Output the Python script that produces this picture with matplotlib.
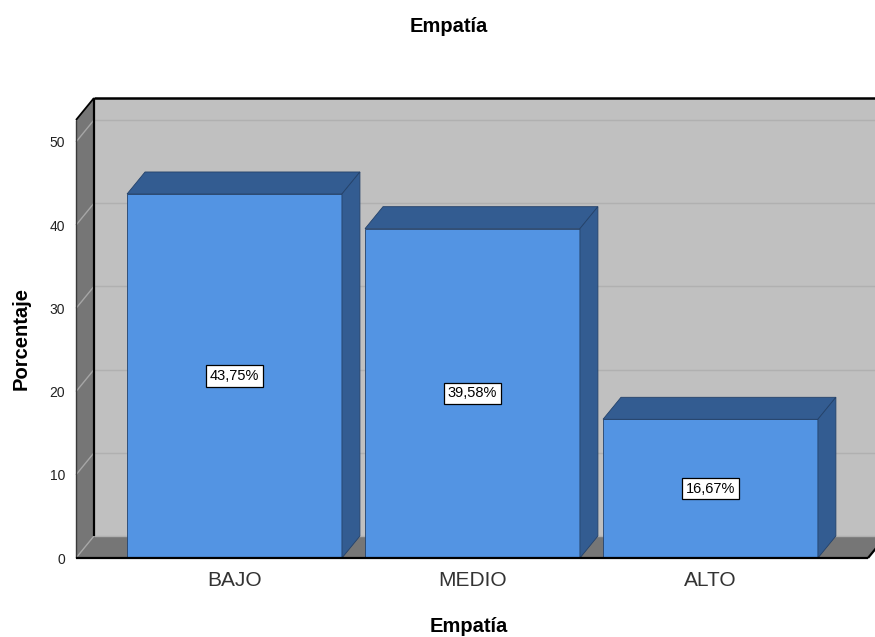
import matplotlib
matplotlib.use("Agg")
import matplotlib.pyplot as plt
from matplotlib.patches import Polygon

plt.rcParams["font.family"] = ["Liberation Sans", "DejaVu Sans"]

categories = ["BAJO", "MEDIO", "ALTO"]
percentages = [43.75, 39.58, 16.67]
yticks = [0, 10, 20, 30, 40, 50]

WALL = "#c0c0c0"
SHADE = "#767676"
GRID_BACK = "#b0b0b0"
GRID_SIDE = "#a6a6a6"
BAR_FRONT = "#5394e3"
BAR_DARK = "#335c91"
BAR_EDGE = "#24426a"

# front plane limits and the 3D depth offset (data units)
x0, x1 = -0.666, 2.662
ytop = 52.64
dx, dy = 0.0756, 2.644
width = 0.903

fig = plt.figure(figsize=(8.75, 6.37), dpi=100)
ax = fig.add_axes([76 / 875, 79 / 637, 792 / 875, 438 / 637])
ax.set_xlim(x0, x1)
ax.set_ylim(0, ytop)
ax.patch.set_visible(False)
for s in ax.spines.values():
    s.set_visible(False)


def poly(pts, fc, ec="none", lw=0, z=1):
    ax.add_patch(Polygon(pts, closed=True, facecolor=fc, edgecolor=ec,
                         linewidth=lw, zorder=z, clip_on=False))


def line(xs, ys, color="black", lw=1.5, z=3):
    ax.plot(xs, ys, color=color, lw=lw, zorder=z, clip_on=False,
            solid_capstyle="butt")


# back wall, left wall and floor
poly([(x0 + dx, dy), (x1 + dx, dy), (x1 + dx, ytop + dy), (x0 + dx, ytop + dy)], WALL, z=0)
poly([(x0, 0), (x0, ytop), (x0 + dx, ytop + dy), (x0 + dx, dy)], SHADE, z=0)
poly([(x0, 0), (x1, 0), (x1 + dx, dy), (x0 + dx, dy)], SHADE, z=0)

for t in yticks:
    line([x0, x0 + dx], [t, t + dy], color=GRID_SIDE, lw=1, z=0.5)
    line([x0 + dx, x1 + dx], [t + dy, t + dy], color=GRID_BACK, lw=1, z=0.5)

line([x0, x0], [0, ytop], color="#3a3a3a", lw=1, z=0.6)
line([x0 + dx, x0 + dx], [dy, ytop + dy], lw=1.6)
line([x0 + dx, x1 + dx], [ytop + dy, ytop + dy], lw=1.8)
line([x0, x0 + dx], [ytop, ytop + dy], lw=1.3)
line([x0, x1], [0, 0], lw=1.6, z=4)
line([x1, x1 + dx], [0, dy], lw=1.6, z=4)

# bars
for i, v in enumerate(percentages):
    left, right = i - width / 2, i + width / 2
    poly([(left, 0), (right, 0), (right, v), (left, v)], BAR_FRONT, BAR_EDGE, 0.6, z=2)
    poly([(left, v), (right, v), (right + dx, v + dy), (left + dx, v + dy)], BAR_DARK, BAR_EDGE, 0.6, z=2)
    poly([(right, 0), (right + dx, dy), (right + dx, v + dy), (right, v)], BAR_DARK, BAR_EDGE, 0.6, z=2)
    label = f"{v:.2f}".replace(".", ",") + "%"
    ax.text(i, v / 2, label, ha="center", va="center", fontsize=10.5, color="black", zorder=5,
            bbox=dict(boxstyle="square,pad=0.25", facecolor="white", edgecolor="black", linewidth=0.9))

ax.set_yticks(yticks)
ax.set_yticklabels([str(t) for t in yticks])
ax.tick_params(axis="y", length=0, pad=8, labelsize=10, labelcolor="#222222")
for lbl in ax.get_yticklabels():
    lbl.set_va("center_baseline")
ax.set_xticks(range(len(categories)))
ax.set_xticklabels(categories)
ax.tick_params(axis="x", length=0, pad=9, labelsize=15, labelcolor="#333333")

fig.text(449 / 875, 1 - 32 / 637, "Empatía", ha="center", va="baseline",
         fontsize=14.5, fontweight="bold")
fig.text(469 / 875, 1 - 632 / 637, "Empatía", ha="center", va="baseline",
         fontsize=14.5, fontweight="bold")
fig.text(21 / 875, 1 - 339 / 637, "Porcentaje", ha="center", va="center",
         rotation=90, fontsize=14.5, fontweight="bold")

fig.savefig("out.png", dpi=100)
